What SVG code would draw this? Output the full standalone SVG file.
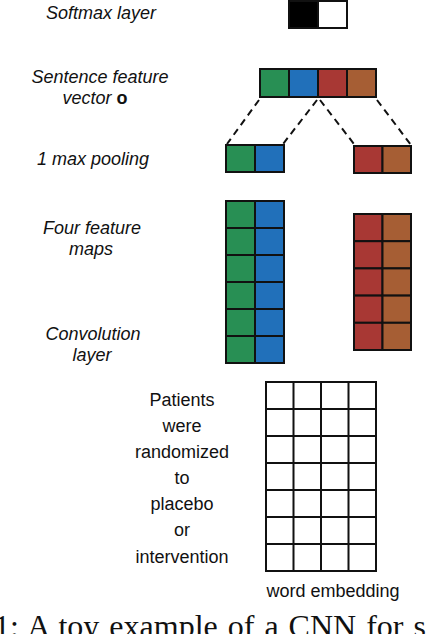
<svg xmlns="http://www.w3.org/2000/svg" width="442" height="634" viewBox="0 0 442 634">
<style>
.lbl{font-family:"Liberation Sans",Arial,sans-serif;font-size:18px;font-style:italic;fill:#111;text-anchor:middle}
.wd{font-family:"Liberation Sans",Arial,sans-serif;font-size:18px;fill:#111;text-anchor:middle}
.cap{font-family:"Liberation Serif","Times New Roman",serif;font-size:32px;fill:#111;word-spacing:2px}
.c{stroke:#111;stroke-width:2}
.g{fill:#288f54}.b{fill:#2170ba}.r{fill:#a83834}.o{fill:#a65e34}
.grid{fill:#fff;stroke:#111;stroke-width:2}
.dash{stroke:#111;stroke-width:2;stroke-dasharray:7 5;fill:none}
</style>
<rect width="442" height="634" fill="#fff"/>

<g id="labels">
<text class="lbl" x="101" y="19">Softmax layer</text>
<text class="lbl" x="100" y="83">Sentence feature</text>
<text class="lbl" x="95" y="104">vector <tspan font-weight="bold" font-style="normal">o</tspan></text>
<text class="lbl" x="93" y="165">1 max pooling</text>
<text class="lbl" x="92" y="234">Four feature</text>
<text class="lbl" x="91" y="255">maps</text>
<text class="lbl" x="93" y="340">Convolution</text>
<text class="lbl" x="92" y="361">layer</text>
</g>

<g id="softmax">
<rect x="289" y="1" width="29" height="27" fill="#000" stroke="#111" stroke-width="2"/>
<rect x="318" y="1" width="29" height="27" fill="#fff" stroke="#111" stroke-width="2"/>
</g>

<g id="sentence-vector">
<rect class="c g" x="260" y="69" width="29" height="28"/>
<rect class="c b" x="289" y="69" width="29" height="28"/>
<rect class="c r" x="318" y="69" width="29" height="28"/>
<rect class="c o" x="347" y="69" width="29" height="28"/>
</g>

<g id="connectors">
<line class="dash" x1="259" y1="100" x2="227" y2="144"/>
<line class="dash" x1="317" y1="100" x2="283" y2="144"/>
<line class="dash" x1="320" y1="100" x2="354" y2="144"/>
<line class="dash" x1="377" y1="100" x2="411" y2="145"/>
</g>

<g id="pool-left">
<rect class="c g" x="226" y="145" width="29" height="27"/>
<rect class="c b" x="255" y="145" width="29" height="27"/>
</g>
<g id="pool-right">
<rect class="c r" x="354" y="146" width="28.5" height="27"/>
<rect class="c o" x="382.5" y="146" width="28.5" height="27"/>
</g>

<g id="maps-left">
<rect class="c g" x="226" y="201" width="29" height="27"/>
<rect class="c g" x="226" y="228" width="29" height="27"/>
<rect class="c g" x="226" y="255" width="29" height="27"/>
<rect class="c g" x="226" y="282" width="29" height="27"/>
<rect class="c g" x="226" y="309" width="29" height="27"/>
<rect class="c g" x="226" y="336" width="29" height="27"/>
<rect class="c b" x="255" y="201" width="29" height="27"/>
<rect class="c b" x="255" y="228" width="29" height="27"/>
<rect class="c b" x="255" y="255" width="29" height="27"/>
<rect class="c b" x="255" y="282" width="29" height="27"/>
<rect class="c b" x="255" y="309" width="29" height="27"/>
<rect class="c b" x="255" y="336" width="29" height="27"/>
</g>
<g id="maps-right">
<rect class="c r" x="354" y="214" width="28.5" height="27.2"/>
<rect class="c r" x="354" y="241.2" width="28.5" height="27.2"/>
<rect class="c r" x="354" y="268.4" width="28.5" height="27.2"/>
<rect class="c r" x="354" y="295.6" width="28.5" height="27.2"/>
<rect class="c r" x="354" y="322.8" width="28.5" height="27.2"/>
<rect class="c o" x="382.5" y="214" width="28.5" height="27.2"/>
<rect class="c o" x="382.5" y="241.2" width="28.5" height="27.2"/>
<rect class="c o" x="382.5" y="268.4" width="28.5" height="27.2"/>
<rect class="c o" x="382.5" y="295.6" width="28.5" height="27.2"/>
<rect class="c o" x="382.5" y="322.8" width="28.5" height="27.2"/>
</g>

<g id="word-embedding">
<rect class="grid" x="266" y="382" width="110" height="189"/>
<path d="M293.5 382V571M321 382V571M348.5 382V571M266 409H376M266 436H376M266 463H376M266 490H376M266 517H376M266 544H376" stroke="#111" stroke-width="2" fill="none"/>
<text class="wd" x="333" y="597">word embedding</text>
</g>

<g id="words">
<text class="wd" x="182" y="406">Patients</text>
<text class="wd" x="182" y="432">were</text>
<text class="wd" x="182" y="458">randomized</text>
<text class="wd" x="182" y="484">to</text>
<text class="wd" x="182" y="510">placebo</text>
<text class="wd" x="182" y="536">or</text>
<text class="wd" x="182" y="563">intervention</text>
</g>

<text class="cap" x="-6" y="637">1:  A toy example of a CNN for s</text>
</svg>
